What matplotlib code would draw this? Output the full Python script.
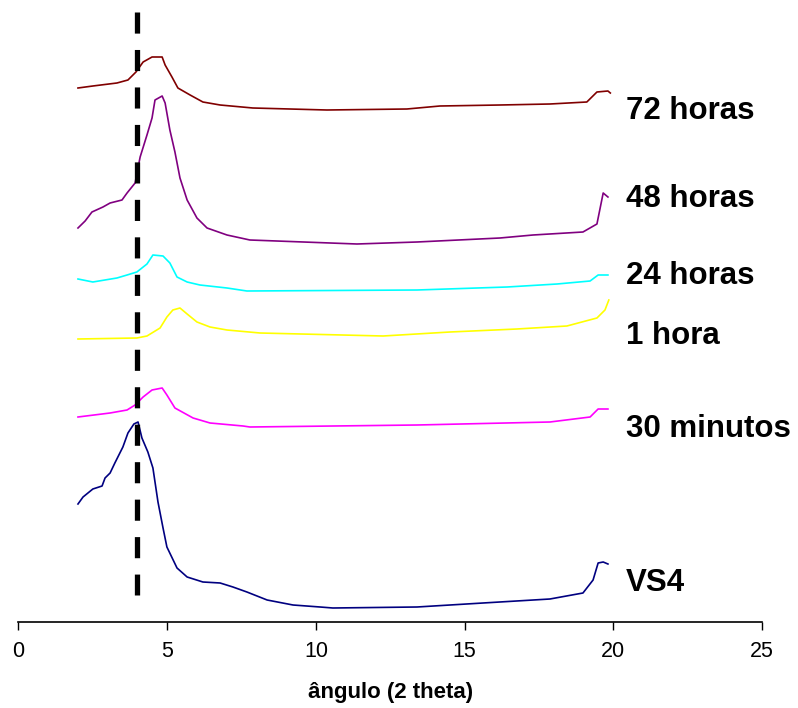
import matplotlib
matplotlib.use('Agg')
import matplotlib.pyplot as plt

plt.rcParams['font.family'] = ['Liberation Sans', 'DejaVu Sans']

# 2 theta positions and stacked intensities (arbitrary units)
x_72h = [2.0, 2.5, 3.31, 3.68, 3.95, 4.19, 4.49, 4.83, 4.93, 5.16, 5.36, 5.77, 6.20, 6.78, 7.88,
         10.37, 13.06, 14.17, 16.19, 17.87, 19.11, 19.45, 19.82, 19.9]
y_72h = [534, 536, 539, 542, 550, 560, 565, 565, 557, 545, 534, 527, 520, 517, 514,
         512, 513, 516, 517, 518, 520, 530, 531, 529]

x_48h = [2.0, 2.24, 2.47, 2.84, 3.08, 3.48, 3.65, 3.92, 4.09, 4.32, 4.49, 4.59, 4.83, 4.93,
         5.09, 5.26, 5.43, 5.67, 6.00, 6.34, 7.01, 7.78, 11.38, 13.40, 16.19, 17.30, 18.98,
         19.45, 19.66, 19.82]
y_48h = [394, 401, 410, 415, 419, 422, 429, 439, 465, 487, 504, 522, 526, 519,
         492, 470, 444, 422, 404, 394, 387, 382, 378, 380, 384, 387, 390,
         398, 429, 425]

x_24h = [2.0, 2.50, 3.31, 3.65, 3.98, 4.32, 4.52, 4.86, 5.09, 5.33, 5.67, 6.10, 7.01, 7.68,
         13.40, 16.43, 18.11, 19.22, 19.49, 19.82]
y_24h = [343, 340, 344, 347, 350, 358, 367, 366, 359, 345, 340, 337, 334, 331,
         332, 335, 338, 341, 347, 347]

x_1h = [2.0, 3.98, 4.32, 4.76, 4.99, 5.19, 5.43, 5.67, 6.00, 6.44, 7.01, 8.12, 12.26,
        14.51, 16.76, 18.44, 19.45, 19.72, 19.85]
y_1h = [283, 284, 286, 294, 305, 312, 314, 308, 300, 295, 292, 289, 286,
        290, 293, 296, 304, 312, 322]

x_30m = [2.0, 3.08, 3.65, 3.92, 4.19, 4.49, 4.83, 4.99, 5.26, 5.87, 6.44, 7.55, 7.78,
         13.40, 17.87, 19.22, 19.49, 19.82]
y_30m = [205, 209, 212, 217, 225, 232, 234, 227, 214, 204, 199, 196, 195,
         197, 200, 205, 213, 213]

x_vs4 = [2.0, 2.17, 2.50, 2.81, 2.91, 3.08, 3.24, 3.51, 3.68, 3.88, 4.02, 4.15, 4.35, 4.52,
         4.69, 4.86, 4.99, 5.33, 5.67, 6.20, 6.78, 7.21, 7.68, 8.36, 9.23, 10.14, 10.57,
         13.40, 15.62, 17.87, 18.98, 19.32, 19.49, 19.66, 19.82]
y_vs4 = [118, 125, 133, 136, 144, 149, 159, 175, 189, 198, 200, 184, 170, 154,
         120, 94, 75, 54, 45, 40, 39, 35, 30, 22, 17, 15, 14,
         15, 19, 23, 29, 42, 59, 60, 58]

series = [(x_72h, y_72h), (x_48h, y_48h), (x_24h, y_24h),
          (x_1h, y_1h), (x_30m, y_30m), (x_vs4, y_vs4)]
names = ['72 horas', '48 horas', '24 horas', '1 hora', '30 minutos', 'VS4']
colors = ['#800000', '#800080', '#00FFFF', '#FFFF00', '#FF00FF', '#000080']
label_y = [503, 415, 338, 278, 185, 31]
label_x = 20.43

ref_angle = 4.0
ref_top, ref_bottom = 610, 27

fig = plt.figure(figsize=(7.98, 7.08), dpi=100)
ax = fig.add_axes([0.02318, 0.12147, 0.93170, 0.87853])

for (xs, ys), c in zip(series, colors):
    ax.plot(xs, ys, color=c, lw=1.2)

# reference line at the VS4 peak
ax.plot([ref_angle, ref_angle], [ref_top, ref_bottom], color='black', lw=3.8,
        dashes=(4.0, 3.1), zorder=5)

for name, yl in zip(names, label_y):
    ax.text(label_x, yl, name, fontsize=22.5, fontweight='bold', va='baseline',
            ha='left', clip_on=False)

ax.set_xlim(0, 25)
ax.set_ylim(0, 622)
ax.set_xticks([0, 5, 10, 15, 20, 25])
ax.set_yticks([])
for s in ['left', 'right', 'top']:
    ax.spines[s].set_visible(False)
ax.spines['bottom'].set_linewidth(1.2)
ax.tick_params(axis='x', direction='out', length=6, width=1, labelsize=15.5, pad=8)
ax.set_xlabel('ângulo (2 theta)', fontsize=16, fontweight='bold', labelpad=14)

fig.savefig('out.png', dpi=100)
